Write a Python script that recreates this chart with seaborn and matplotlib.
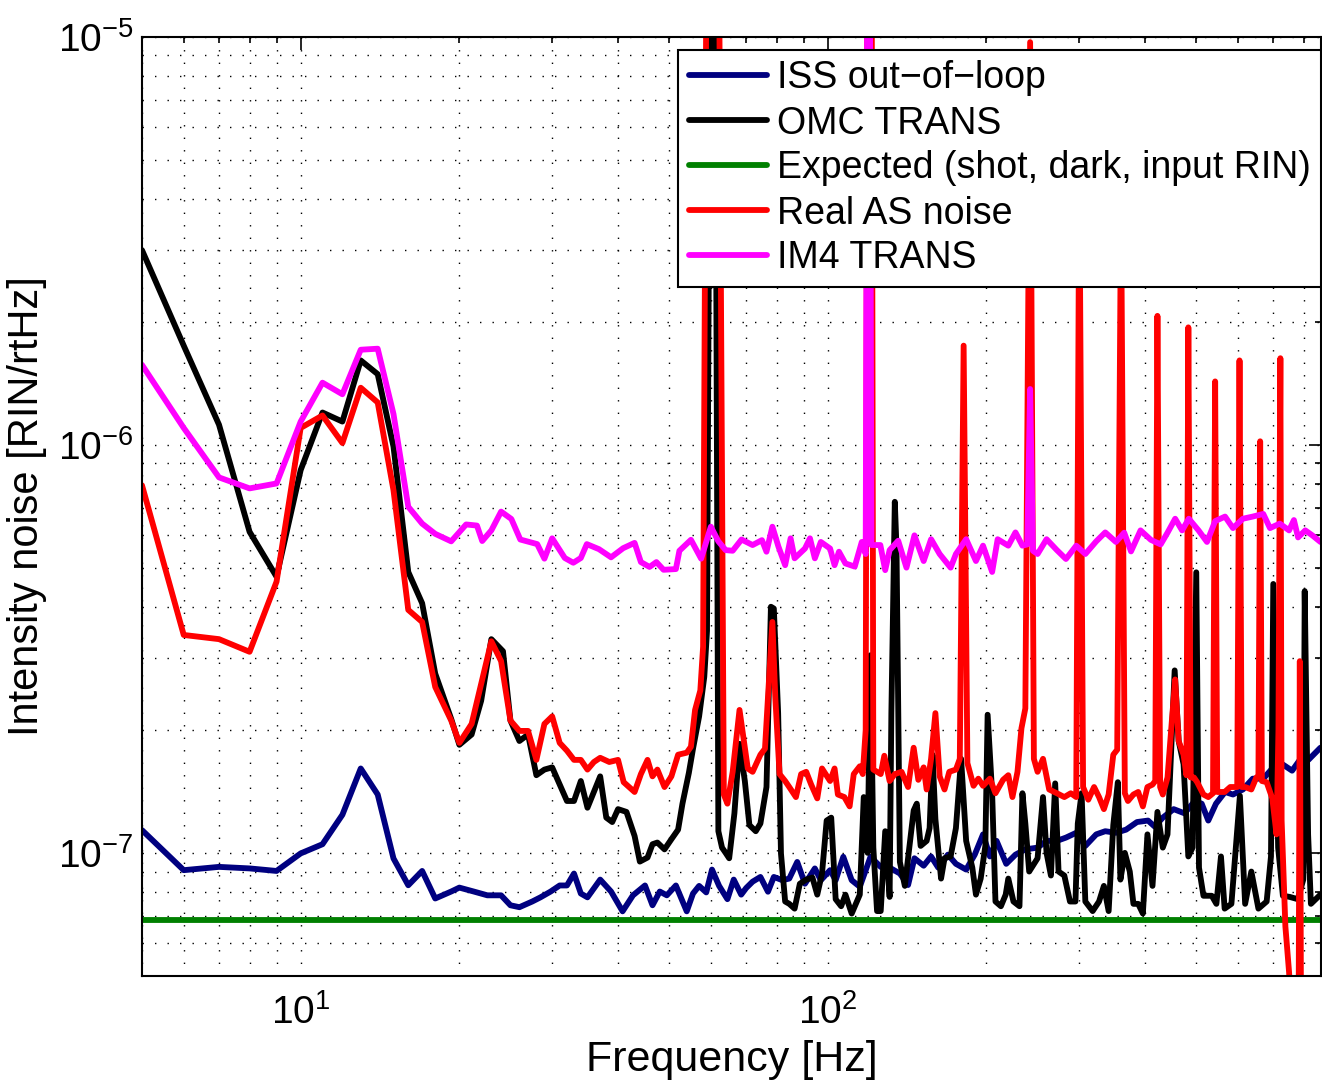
import numpy as np
import matplotlib
matplotlib.use("Agg")
import matplotlib.pyplot as plt
from matplotlib.ticker import LogLocator, NullFormatter
import seaborn as sns

# values, (frequency [Hz], noise in units of 1e-8 RIN/rtHz)
UNIT = 1e-8

iss = [(5, 11.37), (6, 9.07), (7, 9.24), (8, 9.16), (9, 9.03), (10, 9.97), (11, 10.5), (12, 12.4),
       (13, 16.1), (14, 13.9), (15, 9.69), (16, 8.33), (17, 9.03), (18, 7.73), (19.3, 8.04), (20, 8.22),
       (21.3, 8.04), (22.6, 7.87), (24, 7.87), (25, 7.44), (26, 7.36), (27.5, 7.6), (28.5, 7.78),
       (29.8, 8.04), (31, 8.32), (32, 8.32), (33, 8.9), (34, 7.95), (35, 7.78), (37, 8.6), (38.8, 8.04),
       (40.8, 7.19), (42.7, 7.87), (45, 8.32), (46.5, 7.44), (48, 8.04), (49.5, 7.87), (51.5, 8.32),
       (54, 7.19), (55.5, 7.95), (57, 8.3), (58.8, 8.0), (60.3, 9.1), (62.2, 8.3), (64.5, 7.7),
       (66.3, 8.6), (68.5, 7.9), (70, 8.2), (72, 8.5), (74.5, 8.73), (77, 8.03), (79, 8.73), (82, 8.57),
       (84.5, 8.65), (87.5, 9.5), (90.5, 8.4), (94.5, 9.16), (97, 8.57), (101, 9.07), (103.5, 8.57),
       (107, 9.78), (111, 8.57), (115, 8.26), (120.5, 9.78), (126, 9.24), (131, 9.2), (137, 8.9),
       (142, 8.34), (146, 9.7), (152, 9.3), (157, 9.8), (162, 9.2), (169, 9.9), (175, 9.4), (183, 9.1),
       (190, 9.9), (197, 11.1), (203, 9.8), (209, 10.7), (218, 9.4), (227, 9.9), (237, 10.2), (250, 10.3),
       (260, 10.7), (272, 10.7), (283, 10.9), (296, 11.2), (308, 10.4), (323, 11.1), (336, 11.3),
       (352, 11.2), (368, 11.4), (386, 11.9), (405, 12.0), (417, 11.6), (432, 12.2), (453, 12.8),
       (475, 12.5), (497, 13.4), (512, 13.2), (527, 12.0), (545, 13.2), (567, 14.1), (587, 13.9),
       (613, 14.3), (640, 15.2), (670, 15.2), (697, 16.1), (728, 16.5), (760, 15.9), (786, 16.9),
       (816, 16.9), (860, 18.1)]

omc = [(5, 300), (6, 175), (7, 112), (8, 61.2), (9, 47.5), (10, 86.7), (11, 120), (12, 114), (13, 161),
       (14, 149), (15, 99), (16, 48.8), (17, 40.9), (18, 27.5), (19.3, 21.3), (20, 18.4), (21.1, 19.5),
       (22, 23.6), (23, 33.4), (24.2, 31.2), (25, 21.1), (26, 18.8), (27, 19.5), (28, 15.5), (29, 16.0),
       (30, 16.2), (32, 13.4), (33, 13.4), (34, 15.0), (35, 12.9), (37, 15.4), (38, 12.2), (39, 11.9),
       (40, 12.8), (41.5, 12.6), (43, 11.0), (44, 9.52), (45.5, 9.74), (46.5, 10.5), (47.5, 10.6),
       (49, 10.2), (50.5, 10.8), (52, 11.4), (53, 13.2), (54.5, 15.7), (55.5, 18.0), (57, 21.6),
       (58.3, 27), (59, 35), (60, 3000), (61, 3000), (62, 11.3), (63, 10.3), (64, 10.0), (65, 9.7),
       (66.5, 12.5), (68, 18.5), (69.6, 15.0), (71, 11.7), (73, 11.3), (74.5, 11.8), (76.5, 14.5),
       (78, 40.1), (79, 39.7), (80.5, 22.0), (81.5, 9.97), (83, 7.6), (84.5, 7.5), (86.5, 7.3),
       (88.5, 8.4), (91, 8.6), (93.5, 8.7), (95.5, 7.9), (97.5, 8.9), (99.5, 12.0), (101.5, 12.2),
       (103.5, 7.7), (106, 7.4), (108, 7.9), (111, 7.1), (115, 7.9), (117, 13.7), (119, 10.0),
       (120.5, 30.5), (122, 10.3), (124, 7.2), (126, 7.2), (128.5, 11.3), (131, 7.8), (132, 22.0),
       (134, 72.5), (135, 56), (137, 9.5), (140, 8.3), (143, 10.5), (145.5, 12.7), (147.5, 13.2),
       (150, 10.4), (154, 10.7), (156, 11.5), (158, 17.4), (160, 12.1), (164, 8.65), (166.5, 9.7),
       (171, 9.8), (175, 11.5), (179, 17.0), (183, 10.7), (188, 9.2), (191, 7.9), (195, 8.65),
       (199, 10.4), (201, 21.8), (205, 14.0), (208, 7.6), (213, 7.4), (217.5, 7.9), (220, 8.65),
       (225, 7.6), (231, 7.4), (234, 14.0), (237, 11.8), (241, 9.0), (250, 9.7), (256, 13.7), (260, 10.0),
       (265, 8.8), (270, 14.8), (274, 9.0), (281, 8.8), (288, 7.6), (295, 7.6), (298, 11.8), (303, 14.0),
       (308, 7.6), (318, 7.2), (327, 7.6), (334, 8.3), (341, 7.2), (348, 11.7), (355, 14.9), (359, 8.6),
       (366, 10.0), (374, 9.0), (380, 7.5), (388, 7.5), (396, 7.1), (404, 11.1), (413, 8.3), (422, 12.6),
       (432, 10.3), (441, 11.1), (455, 28), (463, 18.8), (473, 16.5), (483, 9.8), (492, 10.3),
       (500, 48.7), (506, 9.2), (516, 7.85), (535, 7.85), (546, 7.5), (557, 9.8), (566, 7.3), (583, 7.5),
       (605, 13.8), (619, 7.5), (636, 9.0), (656, 7.3), (680, 7.6), (693, 9.8), (700, 45.6), (715, 10.3),
       (730, 7.85), (752, 7.8), (779, 7.7), (798, 8.6), (803, 43.8), (815, 11.1), (825, 7.5), (860, 7.9)]

expected = [(5, 6.85), (862, 6.85)]

real_as = [(5, 79.6), (6, 34.2), (7, 33.4), (8, 31.1), (9, 46.2), (10, 110), (11, 118), (12, 101),
           (13, 138), (14, 127), (15, 77.4), (16, 39.4), (17, 36.8), (18, 25.5), (19.3, 21.1), (20, 18.6),
           (21.1, 20.7), (23, 33.0), (24, 29.5), (25, 21.1), (26, 19.9), (27, 19.9), (28, 16.9), (29, 20.7),
           (30, 21.6), (31, 18.6), (32, 17.8), (33, 16.9), (34, 16.9), (35, 16.0), (36, 16.7), (37, 17.1),
           (38.5, 16.7), (40, 16.9), (41, 14.9), (43, 14.1), (44.2, 15.6), (45.5, 16.9), (46.5, 15.4),
           (47.5, 16.0), (49, 14.5), (50.5, 15.4), (52, 17.4), (54, 17.6), (55, 18.2), (56, 22.4),
           (57.3, 25.0), (58, 32), (59, 3000), (60, 3000), (61, 3000), (62, 3000), (63.5, 13.9),
           (64.5, 13.2), (66, 15.8), (68, 22.4), (70.5, 16.1), (72, 15.8), (74.5, 17.4), (76, 18.0),
           (77, 24.1), (78.5, 36.8), (79.5, 24.1), (81, 15.6), (83, 15.0), (84.5, 14.5), (87, 13.7),
           (89, 15.6), (91, 15.8), (93, 14.7), (95.5, 13.6), (97.5, 16.1), (101, 15.0), (103, 16.1),
           (104.5, 13.9), (107.5, 13.7), (110, 13.0), (112, 15.6), (115, 16.3), (116.5, 15.6), (118, 20.0),
           (119, 3000), (120, 3000), (121, 3000), (122, 16.0), (126, 15.6), (128, 17.3), (131, 15.0),
           (134, 15.6), (138, 15.8), (142, 14.5), (145.5, 18.1), (148.5, 15.1), (152, 16.2), (154, 14.3),
           (157, 17.0), (160, 22.0), (163, 15.4), (166.5, 14.3), (170, 15.8), (175, 16.0), (178, 17.0),
           (181, 175), (184, 16.6), (189, 14.6), (193, 15.2), (197, 14.6), (203, 15.2), (208, 14.0),
           (215, 15.1), (220, 15.5), (224, 13.7), (229, 15.8), (233, 20.2), (237, 22.6), (242, 970),
           (246, 17.0), (250, 15.8), (256, 17.0), (263, 14.3), (272, 14.0), (281, 13.7), (289, 14.0),
           (296, 13.7), (300, 500), (305, 14.5), (312, 13.5), (320, 14.5), (327, 13.7), (334, 12.8),
           (341, 13.9), (348, 17.4), (354, 17.9), (360, 400), (366, 14.0), (371, 13.4), (380, 13.9),
           (388, 14.1), (396, 13.0), (404, 14.5), (413, 14.7), (418, 15.0), (422, 207), (427, 14.5),
           (432, 13.9), (441, 15.3), (450, 21.5), (456, 26.6), (463, 18.8), (473, 17.4), (479, 15.5),
           (483, 194), (488, 15.3), (495, 15.3), (502, 14.9), (516, 13.9), (527, 13.7), (538, 14.0),
           (543, 143), (548, 14.1), (566, 14.1), (580, 14.5), (598, 14.5), (604, 161), (610, 14.5),
           (619, 14.5), (636, 14.3), (650, 15.3), (656, 15.3), (661, 102), (666, 15.0), (680, 14.9),
           (697, 13.6), (710, 11.1), (716, 20.0), (722, 163), (726, 12.0), (738, 6.6), (750, 5.1),
           (758, 4.0), (770, 2.5), (781, 2.5), (786, 29.5), (791, 2.5), (820, 2.0), (860, 2.0)]

im4 = [(5, 157), (6, 110), (7, 83.2), (8, 78.2), (9, 80.4), (10, 114), (11, 142), (12, 133), (13, 171),
       (14, 172), (15, 119), (16, 70.5), (17, 64.1), (18, 60.5), (19.3, 58.0), (20.6, 63.8), (21.6, 63.4),
       (22.1, 58.1), (23, 61.7), (24, 68.6), (25.1, 65.8), (26.1, 58.6), (28.1, 57.1), (29, 52.6),
       (30, 59.0), (31.7, 52.8), (32.9, 51.4), (34, 52.8), (34.9, 57.1), (36.8, 55.5), (38.8, 53.0),
       (40.9, 55.8), (43, 57.5), (44.2, 51.6), (45.9, 50.2), (47.3, 51.6), (48.8, 49.4), (51.5, 49.6),
       (52.3, 55.0), (55, 58.5), (57.5, 52.6), (60, 63.0), (62, 58.0), (64, 55.2), (66, 55.0),
       (68.6, 58.6), (72, 56.8), (75, 58.4), (76.5, 54.7), (78.5, 63.0), (80.6, 56.3), (83, 50.7),
       (85, 59.0), (86.5, 52.7), (90.5, 55.7), (92.5, 59.0), (94.5, 52.7), (97, 57.8), (101, 55.7),
       (103, 50.7), (105, 54.7), (108, 51.2), (112.5, 50.3), (116, 57.8), (118, 54.0), (119, 3000),
       (120, 3000), (121, 56.8), (125.8, 56.8), (128.5, 49.3), (131, 55.2), (136, 58.2), (141, 50.0),
       (146, 60.0), (152, 51.9), (157, 58.7), (163, 54.0), (171, 50.0), (175, 54.0), (183, 58.7),
       (191, 51.9), (197, 56.6), (205, 48.8), (210, 58.7), (220, 56.6), (227, 61.0), (234, 56.6),
       (239, 57.0), (242, 137), (245, 55.0), (250, 54.0), (260, 58.7), (272, 55.2), (283, 52.5),
       (296, 56.6), (308, 54.0), (323, 58.0), (336, 61.0), (352, 57.8), (365, 60.9), (376, 54.8),
       (392, 61.7), (410, 58.5), (428, 57.0), (441, 60.9), (456, 65.9), (470, 61.7), (484, 65.9),
       (505, 61.7), (524, 57.8), (543, 65.0), (567, 66.7), (587, 62.5), (613, 65.9), (640, 66.7),
       (670, 67.7), (690, 62.5), (720, 64.1), (750, 61.7), (766, 65.4), (780, 59.3), (805, 61.7),
       (830, 60.0), (860, 57.8)]

series = [("ISS out\u2212of\u2212loop", iss, "#000080"),
          ("OMC TRANS", omc, "black"),
          ("Expected (shot, dark, input RIN)", expected, "#008000"),
          ("Real AS noise", real_as, "#ff0000"),
          ("IM4 TRANS", im4, "#ff00ff")]

sns.set_theme(style="white", rc={"axes.edgecolor": "black", "text.color": "black",
                                 "axes.labelcolor": "black", "xtick.color": "black",
                                 "ytick.color": "black"})
plt.rcParams["font.family"] = ["Liberation Sans", "DejaVu Sans"]
plt.rcParams["mathtext.fontset"] = "custom"
plt.rcParams["mathtext.rm"] = "Liberation Sans"
plt.rcParams["mathtext.it"] = "Liberation Sans:italic"
plt.rcParams["mathtext.bf"] = "Liberation Sans:bold"

fig = plt.figure(figsize=(13.22, 10.84), dpi=100)
ax = fig.add_axes([0.1074, 0.0999, 0.8918, 0.8662])
ax.set_xscale("log")
ax.set_yscale("log")

for label, pts, col in series:
    f, v = zip(*pts)
    sns.lineplot(x=np.array(f), y=np.array(v) * UNIT, ax=ax, color=col, linewidth=4.2,
                 label=label, estimator=None, sort=False)

ax.set_xlim(5, 862)
ax.set_ylim(5e-8, 1e-5)
for axis in (ax.xaxis, ax.yaxis):
    axis.set_minor_locator(LogLocator(base=10, subs=np.arange(2, 10) * 1.0, numticks=50))
    axis.set_minor_formatter(NullFormatter())

ax.grid(True, which="both", color="black", linestyle=(0, (1, 8)), linewidth=1.0)
ax.tick_params(which="both", direction="in", top=True, right=True, width=1.2, colors="black")
ax.tick_params(which="major", length=9, labelsize=28)
ax.tick_params(which="minor", length=4.5)
ax.tick_params(axis="x", which="major", pad=13)
ax.tick_params(axis="y", which="major", pad=6)
for s in ax.spines.values():
    s.set_color("black")
    s.set_linewidth(1.5)

ax.set_xlabel("Frequency [Hz]", fontsize=31, labelpad=6)
ax.set_ylabel("Intensity noise [RIN/rtHz]", fontsize=30, labelpad=8)

leg = ax.legend(loc="upper right", bbox_to_anchor=(1321 / 1322, 1 - 50 / 1084),
                bbox_transform=fig.transFigure, borderaxespad=0, fontsize=27,
                frameon=True, fancybox=False, framealpha=1, edgecolor="black",
                handlelength=2.1, handletextpad=0.25, borderpad=0.28, labelspacing=0.24)
leg.get_frame().set_linewidth(1.5)

fig.savefig("out.png", dpi=100)
